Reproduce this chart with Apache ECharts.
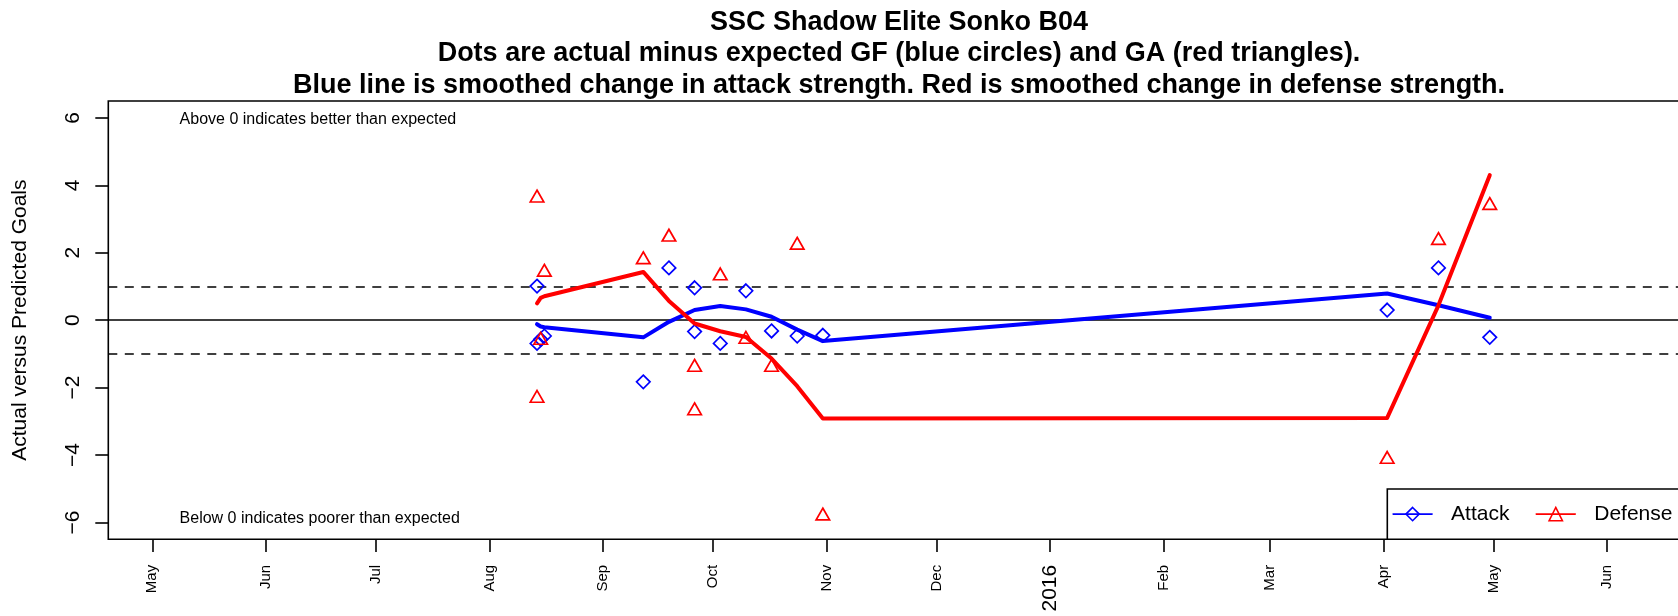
<!DOCTYPE html>
<html>
<head>
<meta charset="utf-8">
<script src="https://cdn.jsdelivr.net/npm/echarts@6/dist/echarts.min.js"></script>
<style>
  html, body { margin: 0; padding: 0; background: #fff; }
  #chart { width: 1678px; height: 616px; }
</style>
</head>
<body>
<div id="chart"></div>
<script>
// ---------- data ----------
const titleLines = [
  'SSC Shadow Elite Sonko B04',
  'Dots are actual minus expected GF (blue circles) and GA (red triangles).',
  'Blue line is smoothed change in attack strength. Red is smoothed change in defense strength.'
];
const yAxisTitle = 'Actual versus Predicted Goals';
const noteAbove = 'Above 0 indicates better than expected';
const noteBelow = 'Below 0 indicates poorer than expected';

// game dates (one entry per game)
const gameDates = ['2015-08-14','2015-08-14','2015-08-15','2015-08-16','2015-09-12','2015-09-19',
  '2015-09-26','2015-09-26','2015-10-03','2015-10-10','2015-10-17','2015-10-24','2015-10-31',
  '2016-04-02','2016-04-16','2016-04-30'];
// actual minus expected goals for (blue diamonds)
const gfValues = [1.01, -0.69, -0.57, -0.47, -1.83, 1.55, 0.96, -0.34, -0.69, 0.87, -0.32, -0.47, -0.45,
  0.30, 1.55, -0.51];
// actual minus expected goals against (red triangles)
const gaValues = [3.68, -2.26, -0.54, 1.48, 1.85, 2.52, -1.34, -2.63, 1.37, -0.51, -1.34, 2.28, -5.75,
  -4.07, 2.42, 3.46];

// smoothed strength changes
const smoothDates = ['2015-08-14','2015-08-15','2015-08-16','2015-09-12','2015-09-19','2015-09-26',
  '2015-10-03','2015-10-10','2015-10-17','2015-10-24','2015-10-31','2016-04-02','2016-04-16','2016-04-30'];
const attackLine = [-0.12, -0.19, -0.21, -0.51, -0.05, 0.30, 0.42, 0.32, 0.10, -0.28, -0.62, 0.79, 0.44, 0.07];
const defenseLine = [0.50, 0.66, 0.71, 1.43, 0.57, -0.10, -0.33, -0.50, -1.14, -1.96, -2.92, -2.90, 0.44, 4.30];

// reference lines
const dashedLines = [1, -1];
const solidLines = [0];

// axes
const xRange = ['2015-04-19', '2016-06-21'];
const yRange = [-6.5, 6.5];
const yTicks = [-6, -4, -2, 0, 2, 4, 6];
const tickDates = ['2015-05-01','2015-06-01','2015-07-01','2015-08-01','2015-09-01','2015-10-01',
  '2015-11-01','2015-12-01','2016-01-01','2016-02-01','2016-03-01','2016-04-01','2016-05-01','2016-06-01'];
const tickLabels = ['May','Jun','Jul','Aug','Sep','Oct','Nov','Dec','2016','Feb','Mar','Apr','May','Jun'];
const yearLabels = ['2016'];

// ---------- build ----------
const FONT = "'Liberation Sans', Arial, Helvetica, sans-serif";
const BLUE = '#0000FF';
const RED = '#FF0000';

function parseDate(s) {
  const p = s.split('-').map(Number);
  return Date.UTC(p[0], p[1] - 1, p[2]);
}
const tickTimes = tickDates.map(parseDate);
const pairs = (dates, vals) => dates.map((d, i) => [parseDate(d), vals[i]]);

const chart = echarts.init(document.getElementById('chart'), null, { renderer: 'canvas' });

const markLineData = []
  .concat(dashedLines.map(v => ({ yAxis: v, lineStyle: { type: [9, 7.5], width: 1.6, color: '#000' } })))
  .concat(solidLines.map(v => ({ yAxis: v, lineStyle: { type: 'solid', width: 1.6, color: '#000' } })));

const option = {
  animation: false,
  backgroundColor: '#fff',
  title: {
    text: titleLines.join('\n'),
    left: 894,
    top: 1.5,
    textAlign: 'center',
    textStyle: { fontFamily: FONT, fontSize: 27, fontWeight: 'bold', color: '#000', lineHeight: 31.5 }
  },
  grid: {
    left: 108.3, right: -2.3, top: 101, bottom: 76.7,
    show: true, borderColor: '#000', borderWidth: 1.6, backgroundColor: 'transparent',
    outerBoundsMode: 'none', containLabel: false
  },
  legend: {
    left: 1387.3,
    top: 489,
    width: 400,
    orient: 'horizontal',
    padding: [14.6, 11, 14.6, 5],
    itemWidth: 39,
    itemHeight: 16.6,
    itemGap: 26,
    backgroundColor: '#fff',
    borderColor: '#000',
    borderWidth: 1.6,
    borderRadius: 0,
    textStyle: { fontFamily: FONT, fontSize: 21, color: '#000', padding: [0, 0, 0, 14] },
    data: [
      { name: 'Attack', itemStyle: { color: 'transparent', borderColor: BLUE, borderWidth: 1.6 },
        lineStyle: { color: BLUE, width: 1.6 } },
      { name: 'Defense', itemStyle: { color: 'transparent', borderColor: RED, borderWidth: 1.6 },
        lineStyle: { color: RED, width: 1.6 } }
    ]
  },
  xAxis: {
    type: 'value',
    min: parseDate(xRange[0]),
    max: parseDate(xRange[1]),
    axisLine: { show: false, onZero: false },
    splitLine: { show: false },
    axisTick: {
      show: true, inside: false, length: 12.7,
      customValues: tickTimes,
      lineStyle: { color: '#000', width: 1.6 }
    },
    axisLabel: {
      show: true,
      customValues: tickTimes,
      rotate: 90,
      margin: 25.5,
      hideOverlap: false,
      fontFamily: FONT,
      fontSize: 15,
      color: '#000',
      formatter: function (value) {
        let best = 0, bd = Infinity;
        tickTimes.forEach((t, i) => { const d = Math.abs(t - value); if (d < bd) { bd = d; best = i; } });
        const lab = tickLabels[best];
        return yearLabels.indexOf(lab) >= 0 ? '{big|' + lab + '}' : '{m|' + lab + '}';
      },
      rich: {
        m: { fontFamily: FONT, fontSize: 15, color: '#000' },
        big: { fontFamily: FONT, fontSize: 21, color: '#000' }
      }
    }
  },
  yAxis: {
    type: 'value',
    min: yRange[0],
    max: yRange[1],
    name: yAxisTitle,
    nameLocation: 'middle',
    nameRotate: 90,
    nameGap: 77.4,
    nameTextStyle: { fontFamily: FONT, fontSize: 21, color: '#000' },
    axisLine: { show: false, onZero: false },
    splitLine: { show: false },
    axisTick: {
      show: true, inside: false, length: 13,
      customValues: yTicks,
      lineStyle: { color: '#000', width: 1.6 }
    },
    axisLabel: {
      show: true,
      customValues: yTicks,
      rotate: 90,
      margin: 24.5,
      fontFamily: FONT,
      fontSize: 21,
      color: '#000',
      formatter: v => String(v).replace('-', '\u2212')
    }
  },
  graphic: [
    { type: 'text', x: 179.6, y: 119.3, silent: true,
      style: { text: noteAbove, fontFamily: FONT, fontSize: 16, fill: '#000', verticalAlign: 'middle', align: 'left' } },
    { type: 'text', x: 179.6, y: 519, silent: true,
      style: { text: noteBelow, fontFamily: FONT, fontSize: 16, fill: '#000', verticalAlign: 'middle', align: 'left' } }
  ],
  series: [
    {
      name: 'GF',
      type: 'scatter',
      data: pairs(gameDates, gfValues),
      symbol: 'diamond',
      symbolSize: 13.5,
      itemStyle: { color: 'transparent', borderColor: BLUE, borderWidth: 1.7, opacity: 1 },
      z: 3
    },
    {
      name: 'GA',
      type: 'scatter',
      data: pairs(gameDates, gaValues),
      symbol: 'triangle',
      symbolSize: [13.5, 11.7],
      itemStyle: { color: 'transparent', borderColor: RED, borderWidth: 1.7, opacity: 1 },
      z: 3
    },
    {
      name: 'Attack',
      type: 'line',
      data: pairs(smoothDates, attackLine),
      symbol: 'diamond',
      symbolSize: 13,
      showSymbol: false,
      lineStyle: { color: BLUE, width: 4, cap: 'round', join: 'round' },
      itemStyle: { color: 'transparent', borderColor: BLUE, borderWidth: 1.6 },
      z: 4,
      markLine: {
        silent: true,
        symbol: ['none', 'none'],
        label: { show: false },
        data: markLineData,
        z: 1
      }
    },
    {
      name: 'Defense',
      type: 'line',
      data: pairs(smoothDates, defenseLine),
      symbol: 'triangle',
      symbolSize: 13,
      showSymbol: false,
      lineStyle: { color: RED, width: 4, cap: 'round', join: 'round' },
      itemStyle: { color: 'transparent', borderColor: RED, borderWidth: 1.6 },
      z: 4
    }
  ]
};
chart.setOption(option);
</script>
</body>
</html>
